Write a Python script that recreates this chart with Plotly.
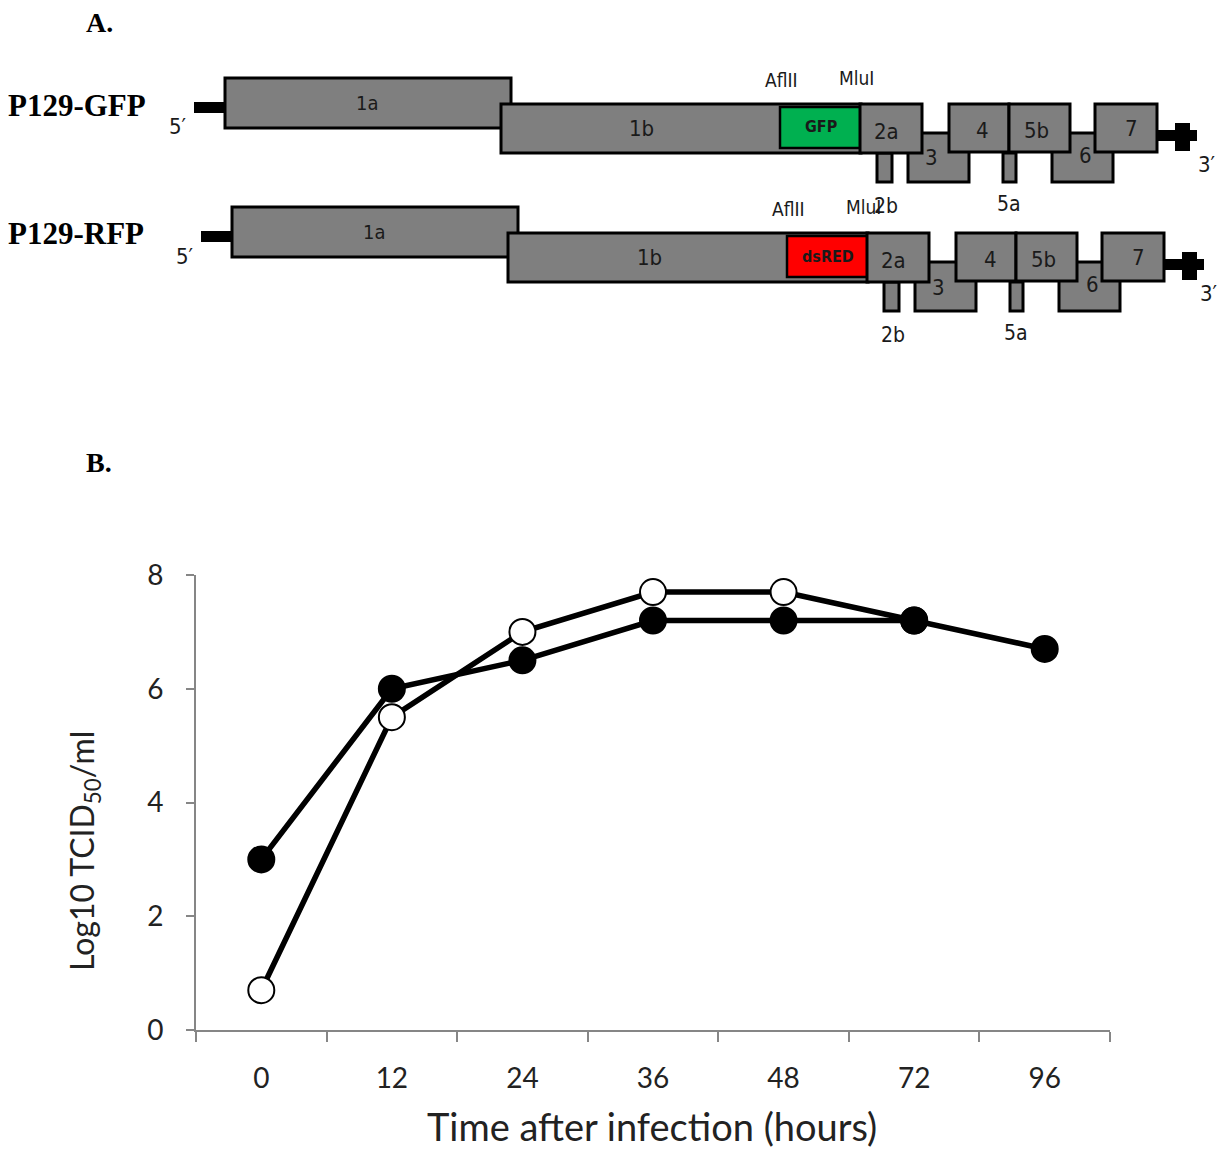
import plotly.graph_objects as go

# page body has an 8px default margin; work in reference pixel coordinates
BODY = 8
FW, FH = 1225 - 2 * BODY, 1156 - 2 * BODY

# ---------------- data (panel B) ----------------
time_labels = ["0", "12", "24", "36", "48", "72", "96"]
titer_open = [0.7, 5.5, 7.0, 7.7, 7.7, 7.2, None]      # open circles
titer_filled = [3.0, 6.0, 6.5, 7.2, 7.2, 7.2, 6.7]     # filled circles
y_ticks = [0, 2, 4, 6, 8]

# ---------------- data (panel A: genome maps) ----------------
constructs = ["P129-GFP", "P129-RFP"]
inserts = ["GFP", "dsRED"]
insert_colors = ["#00b050", "#ff0000"]
genes = ["1a", "1b", "2a", "2b", "3", "4", "5a", "5b", "6", "7"]
sites = ["AflII", "MluI"]

# layout geometry of the gene map (reference pixels, row 1); row 2 is shifted
ROW_SHIFT = [(0, 0), (7, 129)]
GENE_BOX = {  # name: (x0, y0, x1, y1, label_x, label_y, label_size, label_inside)
    "1a": (225, 78, 511, 128, 367, 103, 20, True),
    "1b": (501, 104, 861, 153, 642, 128, 22, True),
    "3": (908, 133, 969, 182, 931, 158, 22, True),
    "6": (1052, 133, 1113, 182, 1085, 155, 22, True),
    "2b": (877, 153, 892, 182, 886, 206, 21, False),
    "5a": (1003, 153, 1016, 182, 1009, 204, 21, False),
    "2a": (860, 104, 922, 153, 886, 131, 22, True),
    "4": (949, 104, 1009, 152, 983, 130, 22, True),
    "5b": (1009, 104, 1070, 152, 1036, 130, 22, True),
    "7": (1095, 104, 1157, 152, 1131, 128, 22, True),
}
DRAW_ORDER = ["1a", "1b", "INSERT", "3", "6", "2b", "5a", "2a", "4", "5b", "7"]
INSERT_BOX = (780, 107, 862, 148, 821, 127)
SITE_POS = {"AflII": (781, 80), "MluI": (856, 78)}
THREE_PRIME_POS = [(1207, 165), (1209, 293)]

GRAY = "#7f7f7f"
TXT = "#1a1a1a"
DIAG_FONT = "Liberation Sans Narrow, DejaVu Sans Condensed, Arial Narrow, sans-serif"
SERIF = "Liberation Serif, Times New Roman, serif"
SANS = "Lato, Open Sans, sans-serif"


def px(x):
    return (x - BODY) / FW


def py(y):
    return 1 - (y - BODY) / FH


shapes = []
annotations = []


def rect(x0, y0, x1, y1, fill, lw=3, lc="black"):
    shapes.append(dict(type="rect", xref="paper", yref="paper",
                       x0=px(x0), x1=px(x1), y0=py(y1), y1=py(y0),
                       fillcolor=fill, line=dict(color=lc, width=lw), layer="above"))


def text(x, y, s, size, family=DIAG_FONT, color=TXT, bold=False, xanchor="center"):
    if bold:
        s = "<b>" + s + "</b>"
    annotations.append(dict(x=px(x), y=py(y), xref="paper", yref="paper", text=s,
                            showarrow=False, xanchor=xanchor, yanchor="middle",
                            font=dict(family=family, size=size, color=color)))


for r, name in enumerate(constructs):
    dx, dy = ROW_SHIFT[r]
    text(6, 105 + dy, name, 31, family=SERIF, color="black", bold=True, xanchor="left")
    rect(194 + dx, 102 + dy, 226 + dx, 113 + dy, "black", lw=0)
    text(178 + dx, 127 + dy, "5\u2032", 22)
    for key in DRAW_ORDER:
        if key == "INSERT":
            x0, y0, x1, y1, lx, ly = INSERT_BOX
            rect(x0 + dx, y0 + dy, x1 + dx, y1 + dy, insert_colors[r], lw=2.5)
            text(lx + dx, ly + dy, inserts[r], 16, bold=True)
            continue
        x0, y0, x1, y1, lx, ly, ls, inside = GENE_BOX[key]
        rect(x0 + dx, y0 + dy, x1 + dx, y1 + dy, GRAY, lw=3)
        if inside:
            text(lx + dx, ly + dy, key, ls)
    for key in DRAW_ORDER:
        if key in GENE_BOX and not GENE_BOX[key][7]:
            _, _, _, _, lx, ly, ls, _ = GENE_BOX[key]
            text(lx + dx, ly + dy, key, ls)
    rect(1157 + dx, 130 + dy, 1197 + dx, 141 + dy, "black", lw=0)
    rect(1175 + dx, 123 + dy, 1190 + dx, 151 + dy, "black", lw=0)
    tx, ty = THREE_PRIME_POS[r]
    text(tx, ty, "3\u2032", 22)
    for s in sites:
        sx, sy = SITE_POS[s]
        text(sx + dx, sy + dy, s, 19)

text(84, 22, "A.", 28, family=SERIF, color="black", bold=True, xanchor="left")
text(84, 462, "B.", 28, family=SERIF, color="black", bold=True, xanchor="left")

# ---------------- panel B chart ----------------
fig = go.Figure()
fig.add_trace(go.Scatter(
    x=time_labels, y=titer_open, mode="lines+markers", name="open",
    line=dict(color="black", width=5.5),
    marker=dict(symbol="circle", size=26, color="white", line=dict(color="black", width=2)),
    cliponaxis=False, showlegend=False))
fig.add_trace(go.Scatter(
    x=time_labels, y=titer_filled, mode="lines+markers", name="filled",
    line=dict(color="black", width=5.5),
    marker=dict(symbol="circle", size=26, color="black", line=dict(color="black", width=2)),
    cliponaxis=False, showlegend=False))

AXC = "#868686"
TICKFONT = dict(family=SANS, size=28, color="#222222")

fig.update_layout(
    width=FW, height=FH,
    margin=dict(l=0, r=0, t=0, b=0, pad=0, autoexpand=False),
    paper_bgcolor="white", plot_bgcolor="white",
    shapes=shapes,
    xaxis=dict(domain=[px(196), px(1110)], type="category",
               categoryorder="array", categoryarray=time_labels,
               range=[-0.5, 6.5],
               showline=True, linecolor=AXC, linewidth=2,
               ticks="outside", tickson="boundaries", ticklen=10,
               tickcolor=AXC, tickwidth=2, showgrid=False, zeroline=False,
               tickfont=TICKFONT, ticklabelstandoff=22, automargin=False),
    yaxis=dict(domain=[py(1030), py(575)], range=[0, 8],
               tickvals=y_ticks, showline=True, linecolor=AXC, linewidth=2,
               ticks="outside", ticklen=8, tickcolor=AXC, tickwidth=2,
               showgrid=False, zeroline=False, tickfont=TICKFONT,
               ticklabelstandoff=17, automargin=False),
)

annotations.append(dict(x=px(652), y=py(1126), xref="paper", yref="paper",
                        text="Time after infection (hours)", showarrow=False,
                        xanchor="center", yanchor="middle",
                        font=dict(family=SANS, size=38, color="#222222")))
annotations.append(dict(x=px(84), y=py(851), xref="paper", yref="paper",
                        text="Log10 TCID<sub>50</sub>/ml", showarrow=False, textangle=-90,
                        xanchor="center", yanchor="middle",
                        font=dict(family=SANS, size=32, color="#222222")))
fig.update_layout(annotations=annotations)

fig.write_html("out.html")
